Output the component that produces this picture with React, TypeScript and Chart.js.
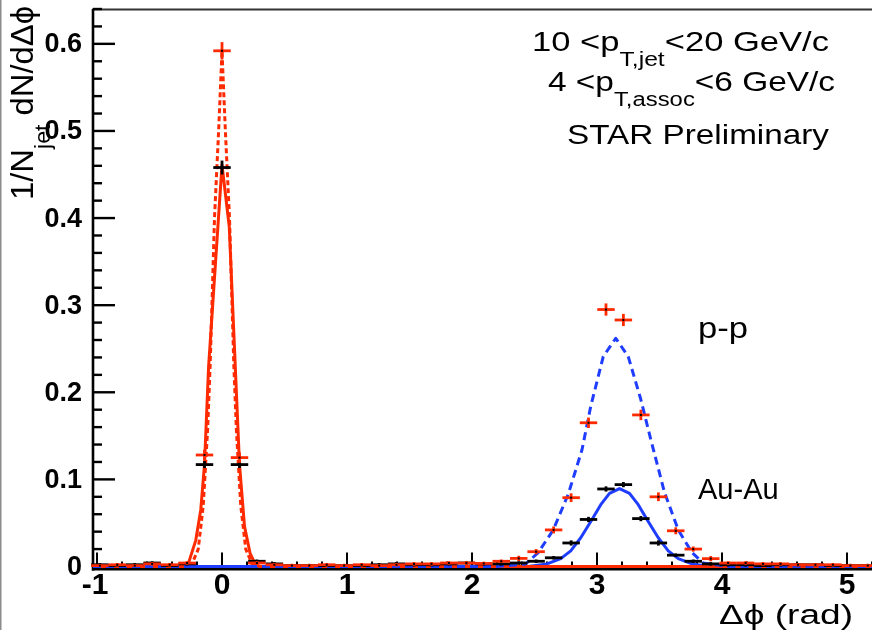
import React, { useEffect, useRef } from 'react';
import { Chart, registerables } from 'chart.js';

Chart.register(...registerables);

// ---- Data: bin centres (rad) and per-bin yields ----
const binCenters = [
  -0.977, -0.838, -0.698, -0.559, -0.419, -0.279, -0.140, 0.0, 0.140, 0.279, 0.419, 0.559, 0.698, 0.838, 0.977,
  1.117, 1.257, 1.396, 1.536, 1.676, 1.815, 1.955, 2.094, 2.234, 2.374, 2.513, 2.653, 2.793, 2.932, 3.072,
  3.211, 3.351, 3.491, 3.630, 3.770, 3.910, 4.049, 4.189, 4.328, 4.468, 4.608, 4.747, 4.887, 5.027, 5.166,
];
const binWidth = 0.1396;

const ppValues = [
  0.001, 0.002, 0.001, 0.003, 0.002, 0.004, 0.128, 0.592, 0.125, 0.004, 0.002, 0.001, 0.001, 0.002, 0.001,
  0.002, 0.001, 0.002, 0.003, 0.003, 0.004, 0.004, 0.0035, 0.006, 0.0093, 0.017, 0.042, 0.079, 0.165, 0.295,
  0.283, 0.174, 0.080, 0.041, 0.020, 0.009, 0.004, 0.004, 0.003, 0.003, 0.002, 0.002, 0.002, 0.001, 0.001,
];
const ppErrors = [
  0.002, 0.002, 0.002, 0.002, 0.002, 0.002, 0.006, 0.010, 0.006, 0.002, 0.002, 0.002, 0.002, 0.002, 0.002,
  0.002, 0.002, 0.002, 0.002, 0.002, 0.002, 0.002, 0.002, 0.002, 0.003, 0.003, 0.004, 0.005, 0.006, 0.007,
  0.007, 0.006, 0.005, 0.004, 0.003, 0.003, 0.002, 0.002, 0.002, 0.002, 0.002, 0.002, 0.002, 0.002, 0.002,
];
const auauValues = [
  0.002, 0.001, 0.002, 0.004, 0.001, 0.003, 0.117, 0.458, 0.117, 0.006, 0.003, 0.001, 0.001, 0.001, 0.001,
  0.001, 0.002, 0.003, 0.002, 0.002, 0.003, 0.004, 0.003, 0.003, 0.004, 0.006, 0.010, 0.027, 0.054, 0.089,
  0.094, 0.055, 0.027, 0.013, 0.006, 0.003, 0.002, 0.002, 0.001, 0.002, 0.002, 0.002, 0.001, 0.001, 0.001,
];
const auauErrors = [
  0.002, 0.002, 0.002, 0.002, 0.002, 0.002, 0.004, 0.008, 0.004, 0.002, 0.002, 0.002, 0.002, 0.002, 0.002,
  0.002, 0.002, 0.002, 0.002, 0.002, 0.002, 0.002, 0.002, 0.002, 0.002, 0.002, 0.002, 0.003, 0.003, 0.003,
  0.003, 0.003, 0.003, 0.002, 0.002, 0.002, 0.002, 0.002, 0.002, 0.002, 0.002, 0.002, 0.002, 0.002, 0.002,
];

// ---- Fit curves (sampled) ----
const ppNearFitX = [-1.032, -0.30, -0.24, -0.19, -0.15, -0.115, -0.094, -0.06, -0.027, 0.0, 0.027, 0.06, 0.094, 0.115, 0.15, 0.19, 0.24, 0.30, 5.2];
const ppNearFitY = [0, 0, 0.003, 0.02, 0.07, 0.157, 0.234, 0.40, 0.50, 0.592, 0.50, 0.40, 0.234, 0.157, 0.07, 0.02, 0.003, 0, 0];

const auauNearFitX = [-1.032, -0.30, -0.27, -0.21, -0.17, -0.14, -0.107, 0.0, 0.058, 0.14, 0.18, 0.225, 0.265, 0.30, 5.2];
const auauNearFitY = [0, 0, 0.003, 0.03, 0.065, 0.117, 0.23, 0.461, 0.39, 0.117, 0.046, 0.015, 0.003, 0, 0];

const ppAwayFitX = [-1.032, 2.2, 2.43, 2.53, 2.65, 2.77, 2.88, 2.95, 3.05, 3.15, 3.25, 3.35, 3.43, 3.54, 3.65, 3.76, 3.85, 4.05, 5.2];
const ppAwayFitY = [0, 0, 0.003, 0.016, 0.042, 0.083, 0.134, 0.184, 0.241, 0.262, 0.241, 0.192, 0.146, 0.085, 0.042, 0.016, 0.004, 0, 0];

const auauAwayFitX = [-1.032, 2.45, 2.60, 2.71, 2.79, 2.87, 2.96, 3.03, 3.10, 3.18, 3.26, 3.33, 3.40, 3.49, 3.57, 3.65, 3.76, 3.90, 5.2];
const auauAwayFitY = [0, 0, 0.003, 0.009, 0.018, 0.033, 0.054, 0.071, 0.084, 0.0895, 0.084, 0.071, 0.054, 0.033, 0.018, 0.009, 0.003, 0, 0];

// ---- Axis ticks ----
const xTickValues = [-1, 0, 1, 2, 3, 4, 5];
const xTickLabels = ['-1', '0', '1', '2', '3', '4', '5'];
const yTickValues = [0, 0.1, 0.2, 0.3, 0.4, 0.5, 0.6];
const yTickLabels = ['0', '0.1', '0.2', '0.3', '0.4', '0.5', '0.6'];

const RED = '#ff2a00';
const BLUE = '#1f3dff';
const FONT = '"Liberation Sans", Arial, Helvetica, sans-serif';

type Part = { t: string; sub?: boolean };

function richWidth(ctx: CanvasRenderingContext2D, parts: Part[], size: number, bold: boolean) {
  let w = 0;
  for (const p of parts) {
    ctx.font = `${bold ? 'bold ' : ''}${p.sub ? Math.round(size * 0.7) : size}px ${FONT}`;
    w += ctx.measureText(p.t).width;
  }
  return w;
}

function drawRich(
  ctx: CanvasRenderingContext2D,
  parts: Part[],
  x: number,
  y: number,
  size: number,
  width: number | null,
  bold = false
) {
  const natural = richWidth(ctx, parts, size, bold);
  const sx = width ? width / natural : 1;
  ctx.save();
  ctx.translate(x, y);
  ctx.scale(sx, 1);
  ctx.textAlign = 'left';
  ctx.textBaseline = 'alphabetic';
  let cx = 0;
  for (const p of parts) {
    const s = p.sub ? Math.round(size * 0.7) : size;
    ctx.font = `${bold ? 'bold ' : ''}${s}px ${FONT}`;
    ctx.fillText(p.t, cx, p.sub ? size * 0.55 : 0);
    cx += ctx.measureText(p.t).width;
  }
  ctx.restore();
}

function seg(ctx: CanvasRenderingContext2D, x1: number, y1: number, x2: number, y2: number) {
  ctx.beginPath();
  ctx.moveTo(x1, y1);
  ctx.lineTo(x2, y2);
  ctx.stroke();
}

const rootStylePlugin = {
  id: 'rootStyle',
  beforeDatasetsDraw(chart: any) {
    const ctx: CanvasRenderingContext2D = chart.ctx;
    const xs = chart.scales.x;
    const ys = chart.scales.y;
    const { left, right, top, bottom } = chart.chartArea;
    ctx.save();
    ctx.fillStyle = '#8c8c8c';
    ctx.fillRect(0, 0, 1.5, 630);
    ctx.strokeStyle = '#333';
    ctx.lineWidth = 2.2;
    seg(ctx, left - 1, top + 0.5, right, top + 0.5);
    ctx.strokeStyle = '#000';
    ctx.lineWidth = 2.6;
    seg(ctx, left, top, left, bottom + 4);
    ctx.lineWidth = 3;
    seg(ctx, left - 1, bottom + 2.5, right, bottom + 2.5);

    ctx.lineWidth = 2.4;
    for (let i = 0; i <= 32; i++) {
      const py = ys.getPixelForValue(i * 0.02);
      const major = i % 5 === 0;
      seg(ctx, left, py, left + (major ? 22 : 9), py);
    }
    ctx.lineWidth = 2;
    for (let i = -5; i <= 26; i++) {
      const px = xs.getPixelForValue(i * 0.2);
      if (px < left || px > right) continue;
      const major = i % 5 === 0;
      seg(ctx, px, bottom + 1, px, bottom + 1 - (major ? 15 : 6));
    }
    ctx.restore();
  },
  afterDatasetsDraw(chart: any) {
    const ctx: CanvasRenderingContext2D = chart.ctx;
    const xs = chart.scales.x;
    const ys = chart.scales.y;
    const half = (xs.getPixelForValue(binWidth) - xs.getPixelForValue(0)) / 2;
    const drawSeries = (vals: number[], errs: number[], color: string) => {
      ctx.save();
      ctx.strokeStyle = color;
      ctx.lineWidth = 2.8;
      for (let i = 0; i < binCenters.length; i++) {
        const px = xs.getPixelForValue(binCenters[i]);
        const py = ys.getPixelForValue(vals[i]);
        const pyLo = ys.getPixelForValue(Math.max(0, vals[i] - errs[i]));
        const pyHi = ys.getPixelForValue(vals[i] + errs[i]);
        seg(ctx, px - half, py, px + half, py);
        seg(ctx, px, pyLo, px, pyHi);
        ctx.fillStyle = '#000';
        ctx.fillRect(px - 1, py - 1, 2, 2);
      }
      ctx.restore();
    };
    drawSeries(auauValues, auauErrors, '#000');
    drawSeries(ppValues, ppErrors, RED);

    ctx.save();
    ctx.fillStyle = '#000';
    ctx.textBaseline = 'middle';
    ctx.font = `bold 30px ${FONT}`;
    ctx.textAlign = 'center';
    xTickValues.forEach((v, i) => {
      const px = xs.getPixelForValue(v);
      ctx.fillText(xTickLabels[i], px - (v < 0 ? 2 : 0), 586);
    });
    ctx.font = `bold 27px ${FONT}`;
    ctx.textAlign = 'right';
    yTickValues.forEach((v, i) => {
      const py = ys.getPixelForValue(v);
      ctx.fillText(yTickLabels[i], 82, py + 1);
    });
    ctx.restore();

    ctx.save();
    ctx.fillStyle = '#000';
    drawRich(ctx, [{ t: 'Δϕ (rad)' }], 719, 624, 27, 134);
    ctx.translate(33, 200);
    ctx.rotate(-Math.PI / 2);
    drawRich(ctx, [{ t: '1/N' }, { t: 'jet', sub: true }, { t: ' dN/dΔϕ' }], 0, 0, 31, 194);
    ctx.restore();

    ctx.save();
    ctx.fillStyle = '#000';
    drawRich(ctx, [{ t: '10 <p' }, { t: 'T,jet', sub: true }, { t: '<20 GeV/c' }], 532, 51, 28, 297);
    drawRich(ctx, [{ t: '4 <p' }, { t: 'T,assoc', sub: true }, { t: '<6 GeV/c' }], 548, 91, 28, 287);
    drawRich(ctx, [{ t: 'STAR Preliminary' }], 567, 144, 28, 262);
    drawRich(ctx, [{ t: 'p-p' }], 698, 338, 29, 50);
    drawRich(ctx, [{ t: 'Au-Au' }], 698, 499, 29, null);
    ctx.restore();
  },
};

function pts(xs: number[], ys: number[]) {
  return xs.map((x, i) => ({ x, y: ys[i] }));
}

export default function App() {
  const ref = useRef<HTMLCanvasElement>(null);
  useEffect(() => {
    const canvas = ref.current!;
    const common = { showLine: true, pointRadius: 0, borderWidth: 3, clip: false as any, tension: 0, borderJoinStyle: 'round' as const };
    const chart = new Chart(canvas, {
      type: 'scatter',
      data: {
        datasets: [
          { ...common, label: 'p-p away fit', data: pts(ppAwayFitX, ppAwayFitY), borderColor: BLUE, borderDash: [8, 5], order: 0 },
          { ...common, label: 'Au-Au near fit', data: pts(auauNearFitX, auauNearFitY), borderColor: RED, order: 1 },
          { ...common, label: 'Au-Au away fit', data: pts(auauAwayFitX, auauAwayFitY), borderColor: BLUE, order: 2 },
          { ...common, label: 'p-p near fit', data: pts(ppNearFitX, ppNearFitY), borderColor: RED, borderDash: [5, 3], order: 3 },
        ],
      },
      options: {
        responsive: false,
        animation: false,
        devicePixelRatio: 1,
        events: [],
        layout: { padding: { left: 93, right: 0, top: 9, bottom: 630 - 566.5 } },
        scales: {
          x: { type: 'linear', min: -1.032, max: 5.2, display: false },
          y: { type: 'linear', min: 0, max: 0.64, display: false },
        },
        plugins: { legend: { display: false }, tooltip: { enabled: false } },
      },
      plugins: [rootStylePlugin],
    });
    return () => chart.destroy();
  }, []);
  return (
    <div style={{ position: 'fixed', left: 0, top: 0, width: 872, height: 630, background: '#fff' }}>
      <canvas ref={ref} width={872} height={630} style={{ display: 'block', width: 872, height: 630 }} />
    </div>
  );
}
